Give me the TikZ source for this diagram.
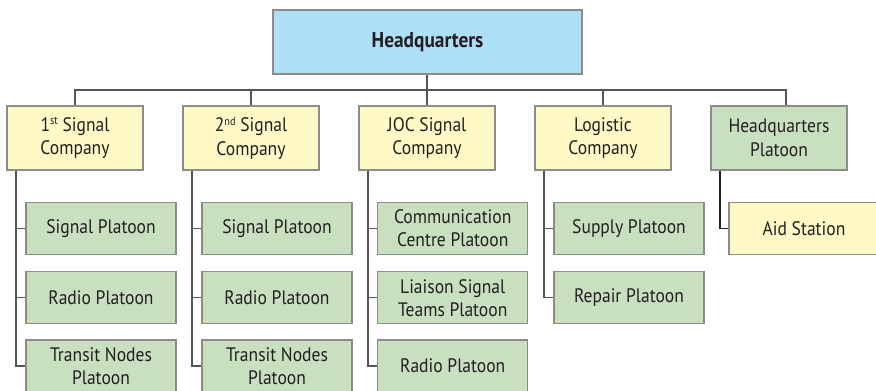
\documentclass[tikz,border=0pt]{standalone}
\usepackage{fontspec}
\setmainfont{PT Sans}[FakeStretch=0.9]
\definecolor{hqblue}{HTML}{ADDFF7}
\definecolor{coyel}{HTML}{FFF9C5}
\definecolor{plgreen}{HTML}{C9E0C0}
\definecolor{bord}{HTML}{8C8C8C}
\definecolor{lineg}{HTML}{555555}
\definecolor{txt}{HTML}{231F20}
\newcommand{\supx}[1]{\raisebox{6.3pt}{\fontsize{11.5}{11.5}\selectfont #1}}
\begin{document}
\begin{tikzpicture}[x=1pt,y=-1pt,
  box/.style={draw=bord,line width=1.2pt,inner sep=0pt,align=center,text=txt,
    font=\fontsize{19.5}{23}\selectfont},
  hq/.style={box,fill=hqblue,minimum width=309pt,minimum height=64pt,font=\fontsize{21.5}{24}\selectfont\bfseries},
  comp/.style={box,fill=coyel,minimum width=136pt,minimum height=64pt,font=\fontsize{19.5}{23.7}\selectfont},
  hqp/.style={box,fill=plgreen,minimum width=136pt,minimum height=64pt,font=\fontsize{19.5}{23.7}\selectfont},
  plat/.style={box,fill=plgreen,minimum width=150pt,minimum height=52pt},
  aid/.style={box,fill=coyel,minimum width=150pt,minimum height=52pt},
  conn/.style={draw=lineg,line width=1.2pt},
  dconn/.style={draw=txt,line width=1.2pt}]
\useasboundingbox (0,0) rectangle (876,391);
\begin{scope}
\clip (0,0) rectangle (876,391);
\node[hq] (hq) at (427.5,42) {Headquarters};
\node[comp] (c1) at (75,138) {1\supx{st} Signal\\Company};
\node[comp] (c2) at (251,138) {2\supx{nd} Signal\\Company};
\node[comp] (c3) at (427,138) {JOC Signal\\Company};
\node[comp] (c4) at (603,138) {Logistic\\Company};
\node[hqp] (c5) at (779,138) {Headquarters\\Platoon};
% column 1
\node[plat] (a1) at (101,228.5) {Signal Platoon};
\node[plat] (a2) at (101,297.75) {Radio Platoon};
\node[plat] (a3) at (101,366) {Transit Nodes\\Platoon};
% column 2
\node[plat] (b1) at (277,228.5) {Signal Platoon};
\node[plat] (b2) at (277,297.75) {Radio Platoon};
\node[plat] (b3) at (277,366) {Transit Nodes\\Platoon};
% column 3
\node[plat] (j1) at (452.75,228.5) {Communication\\Centre Platoon};
\node[plat] (j2) at (452.75,297.75) {Liaison Signal\\Teams Platoon};
\node[plat] (j3) at (452.75,366) {Radio Platoon};
% column 4
\node[plat] (l1) at (629,228.5) {Supply Platoon};
\node[plat] (l2) at (629,297.75) {Repair Platoon};
% column 5
\node[aid] (s1) at (804,228.5) {Aid Station};
% bus
\coordinate (bus) at (0,90);
\coordinate (d5) at ([xshift=7pt]c5.north);
\draw[conn] (c1.north) -- (c1.north |- bus) -- (d5 |- bus) -- (d5);
\draw[conn] (c2.north) -- (c2.north |- bus);
\draw[conn] (c4.north) -- (c4.north |- bus);
\draw[conn] (hq.south -| c3.north) -- (c3.north);
% verticals
\coordinate (v1) at ([xshift=9.5pt]c1.south west);
\coordinate (v2) at ([xshift=9.5pt]c2.south west);
\coordinate (v3) at ([xshift=9.5pt]c3.south west);
\coordinate (v4) at ([xshift=9.5pt]c4.south west);
\coordinate (v5) at ([xshift=9.5pt]c5.south west);
\draw[conn] (v1) |- (a3.west);
\draw[conn] (a1.west) -- (a1.west -| v1);
\draw[conn] (a2.west) -- (a2.west -| v1);
\draw[conn] (v2) |- (b3.west);
\draw[conn] (b1.west) -- (b1.west -| v2);
\draw[conn] (b2.west) -- (b2.west -| v2);
\draw[conn] (v3) |- (j3.west);
\draw[conn] (j1.west) -- (j1.west -| v3);
\draw[conn] (j2.west) -- (j2.west -| v3);
\draw[conn] (v4) |- (l2.west);
\draw[conn] (l1.west) -- (l1.west -| v4);
\draw[dconn] (v5) |- (s1.west);
\end{scope}
\end{tikzpicture}
\end{document}
